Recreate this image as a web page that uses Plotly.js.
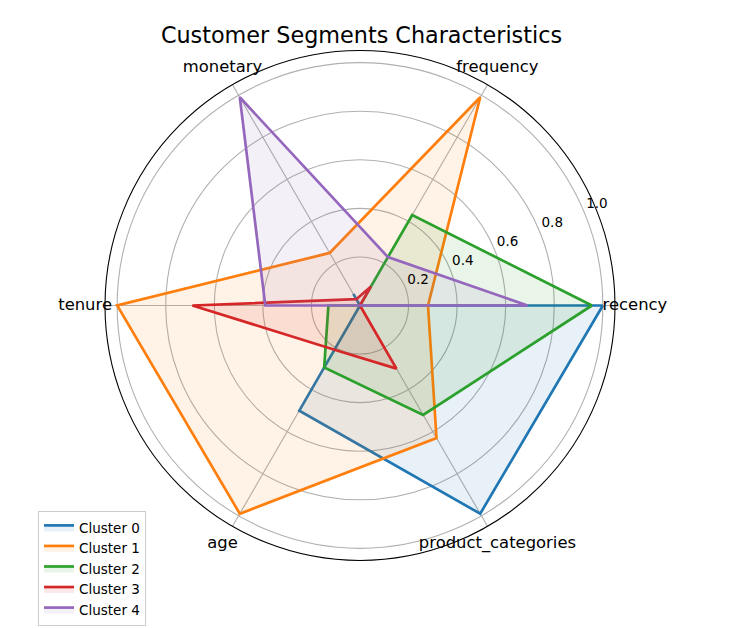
<!DOCTYPE html>
<html>
<head>
<meta charset="utf-8">
<script src="https://cdn.plot.ly/plotly-3.0.1.min.js"></script>
<style>html,body{margin:0;padding:0;background:#fff;}#chart{width:740px;height:628px;}</style>
</head>
<body>
<div id="chart"></div>
<script>
const categories = ['recency', 'frequency', 'monetary', 'tenure', 'age', 'product_categories'];
const clusterNames = ['Cluster 0', 'Cluster 1', 'Cluster 2', 'Cluster 3', 'Cluster 4'];
const cluster0 = [1.00, 0.00, 0.055, 0.00, 0.50, 0.99];
const cluster1 = [0.28, 0.99, 0.25, 1.00, 0.99, 0.63];
const cluster2 = [0.955, 0.43, 0.00, 0.13, 0.295, 0.52];
const cluster3 = [0.00, 0.09, 0.03, 0.69, 0.21, 0.30];
const cluster4 = [0.69, 0.23, 0.99, 0.39, 0.00, 0.00];
const radialTicks = [0.2, 0.4, 0.6, 0.8, 1.0];
const radialTickText = ['0.2', '0.4', '0.6', '0.8', '1.0'];

const colors = ['#1f77b4', '#ff7f0e', '#2ca02c', '#d62728', '#9467bd'];
const fills = ['rgba(31,119,180,0.1)', 'rgba(255,127,14,0.1)', 'rgba(44,160,44,0.1)', 'rgba(214,39,40,0.1)', 'rgba(148,103,189,0.1)'];
const series = [cluster0, cluster1, cluster2, cluster3, cluster4];

const angles = categories.map((c, i) => i * 360 / categories.length);
const FONT = 'DejaVu Sans, Liberation Sans, sans-serif';

const traces = series.map((vals, k) => ({
  type: 'scatterpolar',
  subplot: 'polar',
  mode: 'lines',
  r: vals.concat([vals[0]]),
  theta: angles.concat([angles[0]]),
  name: clusterNames[k],
  line: {color: colors[k], width: 2.7},
  fill: 'toself',
  fillcolor: fills[k],
  hoverinfo: 'skip'
}));

// category labels (on an invisible, larger polar overlay sharing the same centre and scale)
traces.push({
  type: 'scatterpolar',
  subplot: 'polar2',
  mode: 'text',
  r: categories.map(() => 1.132),
  theta: angles,
  text: categories,
  textfont: {family: FONT, size: 16.4, color: '#000'},
  textposition: 'middle center',
  cliponaxis: false,
  showlegend: false,
  hoverinfo: 'skip'
});
// radial tick labels
traces.push({
  type: 'scatterpolar',
  subplot: 'polar2',
  mode: 'text',
  r: radialTicks.map(v => v + 0.06),
  theta: radialTicks.map(() => 23),
  text: radialTickText,
  textfont: {family: FONT, size: 13.5, color: '#000'},
  textposition: 'middle center',
  cliponaxis: false,
  showlegend: false,
  hoverinfo: 'skip'
});

const CX = 360, CY = 305.5, R = 255, RMAX = 1.05, RMAX2 = 1.2;
const R2 = R * RMAX2 / RMAX;

const layout = {
  width: 740,
  height: 628,
  margin: {l: 0, r: 0, t: 0, b: 0},
  paper_bgcolor: '#fff',
  font: {family: FONT, color: '#000'},
  title: {
    text: 'Customer Segments Characteristics',
    font: {family: FONT, size: 22.3, color: '#000'},
    x: 0.4885, xanchor: 'center',
    y: 0.944, yanchor: 'middle'
  },
  showlegend: true,
  legend: {
    x: 0.0514, xanchor: 'left',
    y: 0.003, yanchor: 'bottom',
    bgcolor: '#ffffff',
    bordercolor: '#cccccc',
    borderwidth: 1,
    font: {family: FONT, size: 13.5, color: '#000'},
    itemwidth: 30,
    tracegroupgap: 0
  },
  polar: {
    domain: {x: [(CX - R) / 740, (CX + R) / 740], y: [1 - (CY + R) / 628, 1 - (CY - R) / 628]},
    bgcolor: '#fff',
    radialaxis: {
      range: [0, RMAX],
      tickvals: radialTicks,
      showticklabels: false,
      ticks: '',
      showline: false,
      gridcolor: '#b0b0b0',
      gridwidth: 1.1
    },
    angularaxis: {
      thetaunit: 'degrees',
      rotation: 0,
      direction: 'counterclockwise',
      tickvals: angles,
      showticklabels: false,
      ticks: '',
      showline: true,
      linecolor: '#000',
      linewidth: 1.1,
      gridcolor: '#b0b0b0',
      gridwidth: 1.1
    }
  },
  polar2: {
    domain: {x: [(CX - R2) / 740, (CX + R2) / 740], y: [1 - (CY + R2) / 628, 1 - (CY - R2) / 628]},
    bgcolor: 'rgba(0,0,0,0)',
    radialaxis: {range: [0, RMAX2], visible: false, showgrid: false},
    angularaxis: {
      thetaunit: 'degrees', rotation: 0, direction: 'counterclockwise',
      visible: false, showgrid: false, showline: false
    }
  }
};

Plotly.newPlot('chart', traces, layout, {displayModeBar: false, staticPlot: true});
</script>
</body>
</html>
